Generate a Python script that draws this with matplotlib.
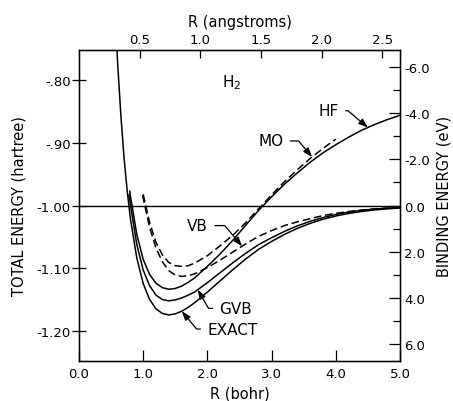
import numpy as np
import matplotlib
matplotlib.use("Agg")
import matplotlib.pyplot as plt

# ---------------- data ----------------
R_exact = [0.55, 0.6, 0.65, 0.7, 0.75, 0.8, 0.9, 1.0, 1.1, 1.2, 1.3, 1.4, 1.5, 1.6, 1.7, 1.8,
           2.0, 2.2, 2.4, 2.6, 2.8, 3.0, 3.2, 3.4, 3.6, 3.8, 4.0, 4.2, 4.4, 4.6, 4.8, 5.0]
E_exact = [-0.660, -0.7696, -0.853, -0.9220, -0.976, -1.0202, -1.0836, -1.1245, -1.1500, -1.1649,
           -1.1723, -1.1745, -1.1729, -1.1686, -1.1625, -1.1551, -1.1381, -1.1200, -1.1020, -1.0850,
           -1.0697, -1.0573, -1.0461, -1.0365, -1.0285, -1.0219, -1.0167, -1.0127, -1.0095, -1.0071,
           -1.0053, -1.0040]

R_gvb = [0.78, 0.8, 0.9, 1.0, 1.1, 1.2, 1.3, 1.4, 1.5, 1.6, 1.7, 1.8, 2.0, 2.2, 2.4, 2.6, 2.8,
         3.0, 3.2, 3.4, 3.6, 3.8, 4.0, 4.2, 4.4, 4.6, 4.8, 5.0]
E_gvb = [-0.983, -0.998, -1.062, -1.103, -1.128, -1.143, -1.150, -1.152, -1.1505, -1.1475, -1.143,
         -1.138, -1.123, -1.107, -1.091, -1.076, -1.0622, -1.0513, -1.0413, -1.0325, -1.0252,
         -1.0192, -1.0142, -1.0105, -1.0077, -1.0057, -1.0043, -1.0030]

R_hf = [0.79, 0.8, 0.9, 1.0, 1.1, 1.2, 1.3, 1.4, 1.5, 1.6, 1.7, 1.8, 2.0, 2.2, 2.4, 2.6, 2.8,
        3.0, 3.2, 3.4, 3.6, 3.8, 4.0, 4.2, 4.4, 4.6, 4.8, 5.0]
E_hf = [-0.977, -0.984, -1.046, -1.086, -1.110, -1.124, -1.131, -1.1336, -1.1323, -1.1285, -1.1225,
        -1.1155, -1.097, -1.077, -1.055, -1.031, -1.0075, -0.986, -0.966, -0.948, -0.931, -0.916,
        -0.903, -0.891, -0.880, -0.871, -0.863, -0.856]

R_mo = [1.0, 1.1, 1.2, 1.3, 1.4, 1.5, 1.6, 1.7, 1.8, 2.0, 2.2, 2.4, 2.6, 2.8, 3.0, 3.2, 3.4,
        3.6, 3.8, 4.0]
E_mo = [-0.982, -1.027, -1.059, -1.079, -1.091, -1.096, -1.097, -1.096, -1.092, -1.080, -1.064,
        -1.047, -1.027, -1.005, -0.983, -0.962, -0.943, -0.925, -0.909, -0.894]

R_vb = [0.99, 1.1, 1.2, 1.3, 1.4, 1.5, 1.6, 1.7, 1.8, 2.0, 2.2, 2.4, 2.6, 2.8, 3.0, 3.2, 3.4,
        3.6, 3.8, 4.0, 4.2, 4.4, 4.6, 4.8, 5.0]
E_vb = [-0.984, -1.035, -1.068, -1.090, -1.104, -1.111, -1.113, -1.112, -1.109, -1.099, -1.087,
        -1.074, -1.061, -1.049, -1.040, -1.032, -1.026, -1.021, -1.016, -1.0125, -1.0095, -1.0072,
        -1.0054, -1.0041, -1.0030]

left_ticks = [-0.80, -0.90, -1.00, -1.10, -1.20]
left_labels = ["-.80", "-.90", "-1.00", "-1.10", "-1.20"]
bottom_ticks = [0.0, 1.0, 2.0, 3.0, 4.0, 5.0]
bottom_labels = ["0.0", "1.0", "2.0", "3.0", "4.0", "5.0"]
top_ticks_A = [0.5, 1.0, 1.5, 2.0, 2.5]
top_labels = ["0.5", "1.0", "1.5", "2.0", "2.5"]
right_ticks_eV = [-6.0, -4.0, -2.0, 0.0, 2.0, 4.0, 6.0]
right_labels = ["-6.0", "-4.0", "-2.0", "0.0", "2.0", "4.0", "6.0"]
right_minor_eV = [-5.0, -3.0, -1.0, 1.0, 3.0, 5.0]

BOHR_PER_ANG = 1.8897
EV_PER_HARTREE = 27.2114

# ---------------- figure ----------------
plt.rcParams['font.family'] = ['DejaVu Sans']
fig = plt.figure(figsize=(4.53, 4.02), dpi=100)
ax = fig.add_axes([0.1744, 0.0995, 0.7086, 0.7735])

xlim = (0.0, 5.0)
ylim = (-1.248, -0.752)
lw = 1.1
ax.plot(R_exact, E_exact, color='black', lw=lw)
ax.plot(R_gvb, E_gvb, color='black', lw=lw)
ax.plot(R_hf, E_hf, color='black', lw=lw)
ax.plot(R_mo, E_mo, color='black', lw=lw, dashes=(5, 2.5))
ax.plot(R_vb, E_vb, color='black', lw=lw, dashes=(5, 2.5))
ax.axhline(-1.0, color='black', lw=1.0)
ax.set_xlim(*xlim)
ax.set_ylim(*ylim)

ax.set_xticks(bottom_ticks)
ax.set_xticklabels(bottom_labels, fontsize=9.5)
ax.set_yticks(left_ticks)
ax.set_yticklabels(left_labels, fontsize=9.5)
ax.tick_params(axis='x', direction='in', length=8, width=0.9, top=False, pad=4)
ax.tick_params(axis='y', direction='inout', length=10, width=0.9, right=False, pad=1)
ax.set_xlabel("R (bohr)", fontsize=10.5, labelpad=4)
ax.set_ylabel("TOTAL ENERGY (hartree)", fontsize=10.5, labelpad=7)
for s in ax.spines.values():
    s.set_linewidth(1.0)

# top axis (angstroms)
axt = ax.twiny()
axt.set_xlim(*xlim)
axt.set_xticks([a * BOHR_PER_ANG for a in top_ticks_A])
axt.set_xticklabels(top_labels, fontsize=9.5)
axt.tick_params(axis='x', direction='in', length=6, width=0.9, pad=3)
axt.set_xlabel("R (angstroms)", fontsize=10.5, labelpad=5)

# right axis (binding energy, eV)
axr = ax.twinx()
axr.set_ylim(*ylim)
axr.set_yticks([-1.0 - b / EV_PER_HARTREE for b in right_ticks_eV])
axr.set_yticklabels(right_labels, fontsize=9.5)
axr.set_yticks([-1.0 - b / EV_PER_HARTREE for b in right_minor_eV], minor=True)
axr.tick_params(axis='y', which='major', direction='in', length=8, width=0.9, pad=3)
axr.tick_params(axis='y', which='minor', direction='in', length=5, width=0.9)
fig.text(444 / 453, 1 - 196 / 402, "BINDING ENERGY (eV)", rotation=90,
         ha='center', va='center', fontsize=10.5)

# labels
ax.text(2.37, -0.803, "H$_2$", fontsize=11, ha='center', va='center')

def label(txt, tx, ty, xr, Rs, Es, angB):
    xy = (xr, float(np.interp(xr, Rs, Es)))
    ax.annotate(txt, xy=xy, xytext=(tx, ty), fontsize=11, ha='center', va='center',
                arrowprops=dict(arrowstyle='-|>,head_length=0.5,head_width=0.18',
                                color='black', lw=0.9, shrinkA=3, shrinkB=0,
                                connectionstyle=f"angle,angleA=0,angleB={angB},rad=0"))

label("HF", 3.887, -0.8488, 4.50, R_hf, E_hf, 140)
label("MO", 2.99, -0.897, 3.63, R_mo, E_mo, 130)
label("VB", 1.846, -1.032, 2.54, R_vb, E_vb, 130)
label("GVB", 2.445, -1.164, 1.85, R_gvb, E_gvb, -60)
label("EXACT", 2.39, -1.197, 1.60, R_exact, E_exact, -50)

fig.savefig("out.png", dpi=100)
